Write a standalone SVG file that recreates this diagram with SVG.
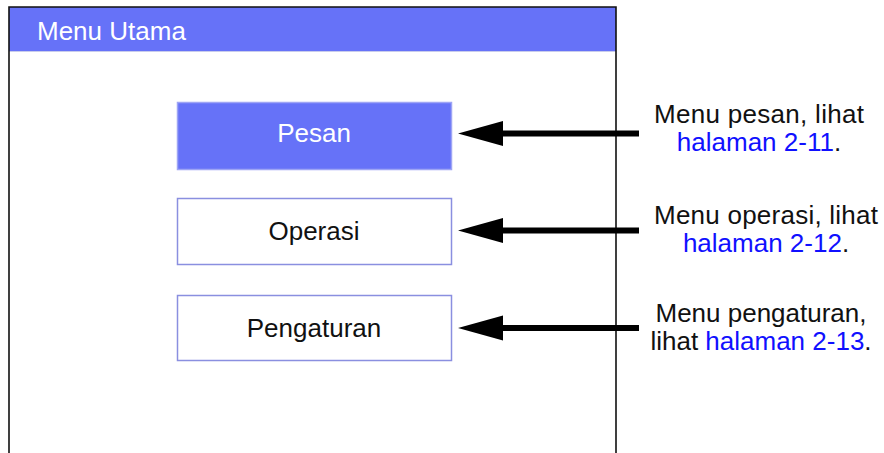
<svg xmlns="http://www.w3.org/2000/svg" width="884" height="453" viewBox="0 0 884 453">
  <style>
    text { font-family: "Liberation Sans", Arial, Helvetica, sans-serif; font-size: 26px; }
    .note { font-size: 26px; }
    .frame { fill: none; stroke: #111; stroke-width: 1.6; }
    .header { fill: #6672f8; }
    .btn { fill: #ffffff; stroke: #8a8fe0; stroke-width: 1.5; }
    .btn-active { fill: #6672f8; stroke: #9ea5f5; stroke-width: 1.5; }
    .dark { fill: #111; }
    .light { fill: #ffffff; }
    .link { fill: #1010ff; }
    .lead { stroke: #000; stroke-width: 6; fill: none; }
    .head { fill: #000; }
  </style>

  <!-- screen frame with title bar -->
  <g id="screen">
    <rect class="header" x="9" y="7" width="607" height="44"/>
    <line x1="9" y1="51.5" x2="616" y2="51.5" stroke="#c8ccec" stroke-width="1"/>
    <path class="frame" d="M9 453 V7 H616 V453"/>
    <text class="light" x="37" y="40" font-size="27.5">Menu Utama</text>
  </g>

  <!-- menu buttons -->
  <g id="btn-pesan">
    <rect class="btn-active" x="177.5" y="102.5" width="274" height="67"/>
    <text class="light" x="314" y="141.5" text-anchor="middle">Pesan</text>
  </g>
  <g id="btn-operasi">
    <rect class="btn" x="177.5" y="198.5" width="274" height="66"/>
    <text class="dark" x="314" y="240" text-anchor="middle">Operasi</text>
  </g>
  <g id="btn-pengaturan">
    <rect class="btn" x="177.5" y="295.5" width="274" height="65"/>
    <text class="dark" x="314" y="336.5" text-anchor="middle">Pengaturan</text>
  </g>

  <!-- callout labels -->
  <g id="note-pesan">
    <text class="dark note" x="759" y="123" text-anchor="middle" textLength="210">Menu pesan, lihat</text>
    <text class="note" x="759" y="151" text-anchor="middle"><tspan class="link">halaman 2-11</tspan><tspan class="dark">.</tspan></text>
  </g>
  <g id="note-operasi">
    <text class="dark note" x="766" y="224" text-anchor="middle" textLength="224">Menu operasi, lihat</text>
    <text class="note" x="766" y="252" text-anchor="middle"><tspan class="link">halaman 2-12</tspan><tspan class="dark">.</tspan></text>
  </g>
  <g id="note-pengaturan">
    <text class="dark note" x="761" y="322" text-anchor="middle">Menu pengaturan,</text>
    <text class="note" x="761" y="350" text-anchor="middle"><tspan class="dark">lihat </tspan><tspan class="link">halaman 2-13</tspan><tspan class="dark">.</tspan></text>
  </g>

  <!-- pointer arrows -->
  <g id="connectors">
    <line class="lead" x1="500" y1="133.5" x2="639" y2="133.5"/>
    <polygon class="head" points="458,133.5 503,121 503,146"/>
    <line class="lead" x1="500" y1="230.5" x2="639" y2="230.5"/>
    <polygon class="head" points="458,230.5 503,218 503,243"/>
    <line class="lead" x1="500" y1="328" x2="639" y2="328"/>
    <polygon class="head" points="458,328 503,315.5 503,340.5"/>
  </g>
</svg>
